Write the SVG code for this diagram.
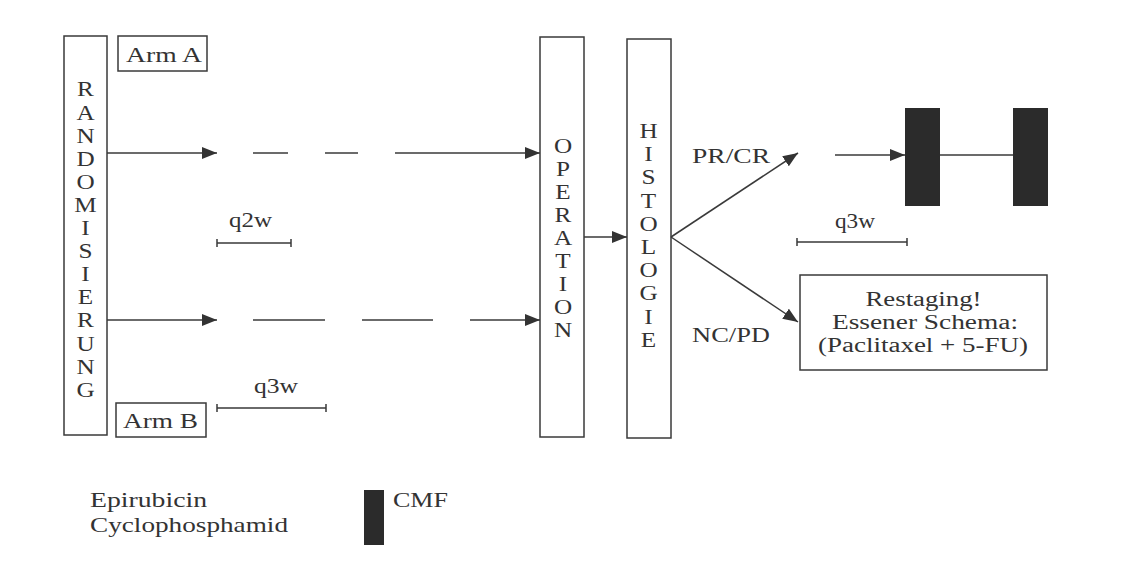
<svg xmlns="http://www.w3.org/2000/svg" width="1122" height="574" viewBox="0 0 1122 574">
<defs>
<style>
.box{fill:none;stroke:#3a3a3a;stroke-width:1.5}
.ln{fill:none;stroke:#3a3a3a;stroke-width:1.5}
.t{font-family:"Liberation Serif","Times New Roman",serif;font-size:22px;fill:#333}
.b{font-family:"Liberation Serif","Times New Roman",serif;font-size:20px;fill:#333;text-anchor:middle}
.v{font-family:"Liberation Serif","Times New Roman",serif;font-size:21px;fill:#333;text-anchor:middle}
.blk{fill:#2b2b2b}
</style>
<marker id="ah" markerUnits="userSpaceOnUse" markerWidth="16" markerHeight="12" refX="15" refY="6" orient="auto">
<path d="M0,0 L15,6 L0,12 z" fill="#333"/>
</marker>
</defs>
<rect width="1122" height="574" fill="#fff"/>

<g id="randomisierung">
<rect class="box" x="64" y="36" width="43" height="399"/>
<g transform="translate(85.5,0) scale(1.2,1)">
<text class="v" x="0" y="96.5">R</text>
<text class="v" x="0" y="119.6">A</text>
<text class="v" x="0" y="142.7">N</text>
<text class="v" x="0" y="165.8">D</text>
<text class="v" x="0" y="188.9">O</text>
<text class="v" x="0" y="212">M</text>
<text class="v" x="0" y="235.1">I</text>
<text class="v" x="0" y="258.2">S</text>
<text class="v" x="0" y="281.3">I</text>
<text class="v" x="0" y="304.4">E</text>
<text class="v" x="0" y="327.5">R</text>
<text class="v" x="0" y="350.6">U</text>
<text class="v" x="0" y="373.7">N</text>
<text class="v" x="0" y="396.8">G</text>
</g>
</g>

<g id="armA">
<rect class="box" x="118" y="36" width="89" height="35"/>
<text class="t" x="126" y="62" textLength="76" lengthAdjust="spacingAndGlyphs">Arm A</text>
</g>

<g id="armB">
<rect class="box" x="116" y="403" width="90" height="34"/>
<text class="t" x="123" y="428" textLength="75" lengthAdjust="spacingAndGlyphs">Arm B</text>
</g>

<g id="operation">
<rect class="box" x="540" y="37" width="44" height="400"/>
<g transform="translate(563,0) scale(1.2,1)">
<text class="v" x="0" y="153">O</text>
<text class="v" x="0" y="176">P</text>
<text class="v" x="0" y="199">E</text>
<text class="v" x="0" y="222">R</text>
<text class="v" x="0" y="245">A</text>
<text class="v" x="0" y="268">T</text>
<text class="v" x="0" y="291">I</text>
<text class="v" x="0" y="314">O</text>
<text class="v" x="0" y="337">N</text>
</g>
</g>

<g id="histologie">
<rect class="box" x="627" y="39" width="44" height="399"/>
<g transform="translate(648.5,0) scale(1.2,1)">
<text class="v" x="0" y="138">H</text>
<text class="v" x="0" y="161.2">I</text>
<text class="v" x="0" y="184.4">S</text>
<text class="v" x="0" y="207.6">T</text>
<text class="v" x="0" y="230.8">O</text>
<text class="v" x="0" y="254">L</text>
<text class="v" x="0" y="277.2">O</text>
<text class="v" x="0" y="300.4">G</text>
<text class="v" x="0" y="323.6">I</text>
<text class="v" x="0" y="346.8">E</text>
</g>
</g>

<g id="restaging">
<rect class="box" x="800" y="275" width="247" height="95"/>
<text class="b" x="923.5" y="306" textLength="116" lengthAdjust="spacingAndGlyphs">Restaging!</text>
<text class="b" x="925" y="329" textLength="186" lengthAdjust="spacingAndGlyphs">Essener Schema:</text>
<text class="b" x="923" y="352" textLength="210" lengthAdjust="spacingAndGlyphs">(Paclitaxel + 5-FU)</text>
</g>

<g id="cmf1"><rect class="blk" x="905" y="108" width="35" height="98"/></g>
<g id="cmf2"><rect class="blk" x="1013" y="108" width="35" height="98"/></g>

<g id="labels">
<text class="t" x="229" y="227" textLength="43" lengthAdjust="spacingAndGlyphs">q2w</text>
<text class="t" x="254" y="393" textLength="44" lengthAdjust="spacingAndGlyphs">q3w</text>
<text class="t" x="835" y="228" textLength="40" lengthAdjust="spacingAndGlyphs">q3w</text>
<text class="t" x="692" y="163" textLength="78" lengthAdjust="spacingAndGlyphs">PR/CR</text>
<text class="t" x="692" y="342" textLength="78" lengthAdjust="spacingAndGlyphs">NC/PD</text>
</g>

<g id="legend">
<text class="t" x="90" y="507" textLength="117" lengthAdjust="spacingAndGlyphs">Epirubicin</text>
<text class="t" x="90" y="532" textLength="198" lengthAdjust="spacingAndGlyphs">Cyclophosphamid</text>
<rect class="blk" x="364" y="490" width="20" height="55"/>
<text class="t" x="393" y="507" textLength="55" lengthAdjust="spacingAndGlyphs">CMF</text>
</g>

<g id="connectors">
<line class="ln" x1="107" y1="153" x2="217" y2="153" marker-end="url(#ah)"/>
<line class="ln" x1="253" y1="153" x2="288" y2="153"/>
<line class="ln" x1="325" y1="153" x2="358" y2="153"/>
<line class="ln" x1="395" y1="153" x2="540" y2="153" marker-end="url(#ah)"/>
<line class="ln" x1="107" y1="320" x2="217" y2="320" marker-end="url(#ah)"/>
<line class="ln" x1="253" y1="320" x2="325" y2="320"/>
<line class="ln" x1="362" y1="320" x2="433" y2="320"/>
<line class="ln" x1="470" y1="320" x2="540" y2="320" marker-end="url(#ah)"/>
<line class="ln" x1="584" y1="237" x2="627" y2="237" marker-end="url(#ah)"/>
<line class="ln" x1="671" y1="237" x2="798" y2="153" marker-end="url(#ah)"/>
<line class="ln" x1="671" y1="237" x2="798" y2="322" marker-end="url(#ah)"/>
<line class="ln" x1="835" y1="155" x2="905" y2="155" marker-end="url(#ah)"/>
<line class="ln" x1="940" y1="155" x2="1013" y2="155"/>
<path class="ln" d="M217,243 H291 M217,239 V247 M291,239 V247"/>
<path class="ln" d="M217,408 H326 M217,404 V412 M326,404 V412"/>
<path class="ln" d="M797,242 H907 M797,238 V246 M907,238 V246"/>
</g>
</svg>
